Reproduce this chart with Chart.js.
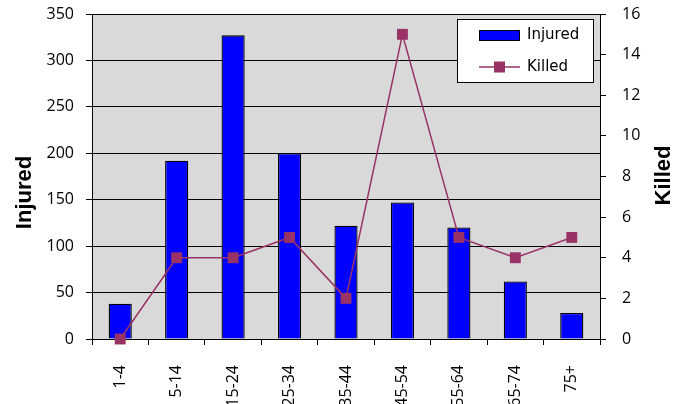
<!DOCTYPE html>
<html>
<head>
<meta charset="utf-8">
<script src="https://cdn.jsdelivr.net/npm/chart.js@4/dist/chart.umd.min.js"></script>
<style>
  html, body { margin: 0; padding: 0; background: #fff; overflow: hidden; }
  #wrap { width: 686px; height: 404px; position: relative; }
</style>
</head>
<body>
<div id="wrap"><canvas id="c" width="686" height="404"></canvas></div>
<script>
// Casualties by age group
const ageGroups = ['1-4', '5-14', '15-24', '25-34', '35-44', '45-54', '55-64', '65-74', '75+'];
const injured = [38, 192, 327, 200, 122, 147, 120, 62, 28];
const killed = [0, 4, 4, 5, 2, 15, 5, 4, 5];
const injuredAxis = { min: 0, max: 350, step: 50 };
const killedAxis = { min: 0, max: 16, step: 2 };

const BLUE = '#0000FF';
const PLUM = '#993366';
const PLOT_BG = '#D9D9D9';
const TITLE_FONT = 'bold 22px "Liberation Sans", Arial, sans-serif';

Chart.defaults.color = '#000';
Chart.defaults.font.family = '"Open Sans", sans-serif';
Chart.defaults.font.size = 16;

// grey plot area behind the bars
const plotBackground = {
  id: 'plotBackground',
  beforeDraw(chart) {
    const { ctx, chartArea: a } = chart;
    ctx.save();
    ctx.fillStyle = PLOT_BG;
    ctx.fillRect(a.left, a.top, a.right - a.left, a.bottom - a.top);
    ctx.restore();
  }
};

// axis titles, both reading bottom to top
const axisTitles = {
  id: 'axisTitles',
  afterDraw(chart, args, opts) {
    const { ctx } = chart;
    opts.items.forEach(t => {
      const s = chart.scales[t.scale];
      const x = t.side === 'left' ? s.left + t.offset : s.right - t.offset;
      const y = (s.top + s.bottom) / 2 + t.shift;
      ctx.save();
      ctx.translate(x, y);
      ctx.rotate(-Math.PI / 2);
      ctx.font = TITLE_FONT;
      ctx.fillStyle = '#000';
      ctx.textAlign = 'center';
      ctx.textBaseline = 'middle';
      ctx.fillText(t.text, 0, 0);
      ctx.restore();
    });
  }
};

// boxed legend in the upper right corner of the plot
const boxedLegend = {
  id: 'boxedLegend',
  afterDatasetsDraw(chart) {
    const { ctx, chartArea: a } = chart;
    const ds = chart.data.datasets;
    const w = 137, h = 64;
    const x0 = a.right - 6 - w, y0 = a.top + 5;
    ctx.save();
    ctx.fillStyle = '#fff';
    ctx.fillRect(x0, y0, w, h);
    ctx.strokeStyle = '#000';
    ctx.lineWidth = 1;
    ctx.strokeRect(x0 + 0.5, y0 + 0.5, w - 1, h - 1);

    const sx = x0 + 22, sw = 41;
    const rowY = [y0 + 16.5, y0 + 48];
    // bar swatch
    ctx.fillStyle = ds[0].backgroundColor;
    ctx.fillRect(sx, rowY[0] - 5.5, sw, 11);
    ctx.strokeStyle = '#000';
    ctx.strokeRect(sx + 0.5, rowY[0] - 5, sw - 1, 10);
    // line swatch
    ctx.strokeStyle = ds[1].borderColor;
    ctx.lineWidth = 1.5;
    ctx.beginPath();
    ctx.moveTo(sx, rowY[1]);
    ctx.lineTo(sx + sw, rowY[1]);
    ctx.stroke();
    ctx.fillStyle = ds[1].pointBackgroundColor;
    ctx.fillRect(sx + sw / 2 - 5.5, rowY[1] - 5.5, 11, 11);

    ctx.fillStyle = '#000';
    ctx.font = '15px "DejaVu Sans", sans-serif';
    ctx.textAlign = 'left';
    ctx.textBaseline = 'middle';
    ctx.fillText(ds[0].label, sx + sw + 7, rowY[0]);
    ctx.fillText(ds[1].label, sx + sw + 7, rowY[1]);
    ctx.restore();
  }
};

new Chart(document.getElementById('c'), {
  data: {
    labels: ageGroups,
    datasets: [
      {
        type: 'bar',
        label: 'Injured',
        data: injured,
        yAxisID: 'yL',
        backgroundColor: BLUE,
        borderColor: '#000',
        borderWidth: 1.3,
        barPercentage: 0.41,
        categoryPercentage: 1,
        order: 2
      },
      {
        type: 'line',
        label: 'Killed',
        data: killed,
        yAxisID: 'yR',
        borderColor: PLUM,
        borderWidth: 1.5,
        pointStyle: 'rect',
        pointRadius: 7.7,
        pointBackgroundColor: PLUM,
        pointBorderColor: PLUM,
        pointBorderWidth: 0,
        tension: 0,
        clip: false,
        order: 1
      }
    ]
  },
  options: {
    responsive: false,
    animation: false,
    layout: { padding: { top: 14, left: 0, right: 0, bottom: 0 } },
    plugins: {
      legend: { display: false },
      tooltip: { enabled: false },
      title: { display: false },
      axisTitles: {
        items: [
          { scale: 'yL', side: 'left', text: 'Injured', offset: 25, shift: 16 },
          { scale: 'yR', side: 'right', text: 'Killed', offset: 22, shift: -1 }
        ]
      }
    },
    scales: {
      x: {
        offset: true,
        grid: { display: true, offset: true, drawOnChartArea: false, drawTicks: true, tickLength: 6, color: '#000' },
        border: { display: true, color: '#000', width: 1 },
        ticks: { autoSkip: false, maxRotation: 90, minRotation: 90, padding: 20, font: { size: 16 } },
        afterFit(s) { s.height = 65; s.paddingLeft = 0; s.paddingRight = 0; }
      },
      yL: {
        position: 'left',
        min: injuredAxis.min,
        max: injuredAxis.max,
        ticks: { stepSize: injuredAxis.step, padding: 12 },
        grid: { color: '#000', lineWidth: 1, tickLength: 6 },
        border: { display: true, color: '#000', width: 1 },
        title: { display: false },
        afterFit(s) { s.width = 92; s.paddingTop = 0; s.paddingBottom = 0; }
      },
      yR: {
        position: 'right',
        min: killedAxis.min,
        max: killedAxis.max,
        ticks: { stepSize: killedAxis.step, padding: 16 },
        grid: { drawOnChartArea: false, color: '#000', tickLength: 6 },
        border: { display: true, color: '#000', width: 1 },
        title: { display: false },
        afterFit(s) { s.width = 86; s.paddingTop = 0; s.paddingBottom = 0; }
      }
    }
  },
  plugins: [plotBackground, axisTitles, boxedLegend]
});
</script>
</body>
</html>
